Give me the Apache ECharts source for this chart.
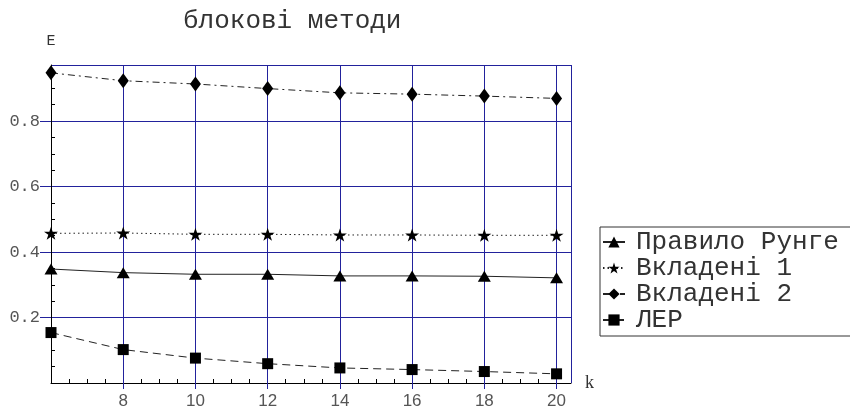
<!DOCTYPE html>
<html>
<head>
<meta charset="utf-8">
<script src="https://cdn.jsdelivr.net/npm/echarts@6/dist/echarts.min.js"></script>
<style>
  html, body { margin: 0; padding: 0; background: #fff; }
  #chart { width: 850px; height: 410px; }
</style>
</head>
<body>
<div id="chart"></div>
<script>
// Error estimate E versus number of steps k for the block methods
const kValues = [6, 8, 10, 12, 14, 16, 18, 20];
const runge   = [0.348, 0.337, 0.332, 0.332, 0.327, 0.327, 0.326, 0.321];
const nested1 = [0.457, 0.458, 0.454, 0.454, 0.452, 0.452, 0.451, 0.451];
const nested2 = [0.947, 0.923, 0.913, 0.899, 0.886, 0.882, 0.876, 0.869];
const ler     = [0.154, 0.102, 0.076, 0.059, 0.046, 0.041, 0.035, 0.028];

const seriesNames = ['Правило Рунге', 'Вкладені 1', 'Вкладені 2', 'ЛЕР'];
const titleText = 'блокові методи';
const xName = 'k';
const yName = 'E';

const NAVY = '#22229c';
const MONO = 'Liberation Mono, Cousine, Courier New, Courier, monospace';
const STAR = 'path://M0,-100 L22.45,-30.9 L95.1,-30.9 L36.3,11.8 L58.8,80.9 L0,38.2 L-58.8,80.9 L-36.3,11.8 L-95.1,-30.9 L-22.45,-30.9 Z';

function pairs(vals) {
  return kValues.map((k, i) => [k, vals[i]]);
}

const X_MIN = 6, X_MAX = 20.4, Y_MIN = 0, Y_MAX = 0.971;

function makeSeries(name, vals, symbol, size, dash) {
  return {
    name: name,
    type: 'line',
    xAxisIndex: 0,
    yAxisIndex: 0,
    data: pairs(vals),
    symbol: symbol,
    symbolSize: size,
    showAllSymbol: true,
    itemStyle: { color: '#000' },
    lineStyle: { color: '#222', width: 1, type: dash },
    z: 5
  };
}

const chart = echarts.init(document.getElementById('chart'), null, { renderer: 'canvas' });
chart.setOption({
  animation: false,
  backgroundColor: '#fff',
  title: {
    text: titleText,
    left: 178,
    top: 3,
    textStyle: { fontFamily: MONO, fontSize: 26, fontWeight: 'normal', color: '#333' }
  },
  legend: {
    orient: 'vertical',
    left: 600,
    top: 227,
    padding: [2, 30, 3, 2],
    itemGap: 0,
    itemWidth: 22,
    itemHeight: 14,
    borderColor: '#333',
    borderWidth: 1,
    textStyle: { fontFamily: MONO, fontSize: 26, color: '#333', padding: [0, 0, 0, 6] },
    data: seriesNames
  },
  grid: { left: 51, right: 279, top: 65, bottom: 27, containLabel: false },
  xAxis: [
    {
      type: 'value', min: X_MIN, max: X_MAX, interval: 2, position: 'bottom',
      name: xName, nameLocation: 'end', nameGap: 14,
      nameTextStyle: { fontFamily: 'Liberation Serif, serif', fontSize: 18, color: '#333', verticalAlign: 'middle' },
      axisLine: { show: true, onZero: false, lineStyle: { color: '#000', width: 1 } },
      axisTick: { show: true, inside: false, length: 6, lineStyle: { color: NAVY } },
      minorTick: { show: false },
      splitLine: { show: true, showMinLine: false, lineStyle: { color: NAVY, width: 1 } },
      axisLabel: {
        showMinLabel: false, showMaxLabel: false, margin: 10,
        fontFamily: 'Liberation Sans, Arial, sans-serif', fontSize: 17, color: '#555',
        formatter: v => (v === 6 ? '' : String(v))
      }
    },
    {
      type: 'value', min: X_MIN, max: X_MAX, interval: 2, position: 'bottom',
      axisLine: { show: false, onZero: false },
      axisTick: { show: false, inside: true },
      minorTick: { show: true, splitNumber: 4, length: 4, lineStyle: { color: '#000', width: 1 } },
      splitLine: { show: false },
      axisLabel: { show: false }
    }
  ],
  yAxis: [
    {
      type: 'value', min: Y_MIN, max: Y_MAX, interval: 0.2, position: 'left', z: 3,
      name: yName, nameLocation: 'end', nameGap: 16,
      nameTextStyle: { fontFamily: MONO, fontSize: 15, color: '#333', align: 'center' },
      axisLine: { show: true, onZero: false, lineStyle: { color: '#000', width: 1 } },
      axisTick: { show: true, inside: false, length: 11, lineStyle: { color: NAVY } },
      minorTick: { show: false },
      splitLine: { show: true, showMinLine: false, lineStyle: { color: NAVY, width: 1 } },
      axisLabel: {
        showMinLabel: false, showMaxLabel: false, margin: 11,
        fontFamily: MONO, fontSize: 17, color: '#555',
        formatter: v => v.toFixed(1)
      }
    },
    {
      type: 'value', min: Y_MIN, max: Y_MAX, interval: 0.2, position: 'left',
      axisLine: { show: false, onZero: false },
      axisTick: { show: false, inside: true },
      minorTick: { show: true, splitNumber: 4, length: 4, lineStyle: { color: '#000', width: 1 } },
      splitLine: { show: false },
      axisLabel: { show: false }
    }
  ],
  series: [
    makeSeries(seriesNames[0], runge, 'triangle', [13, 11], 'solid'),
    makeSeries(seriesNames[1], nested1, STAR, [14, 13], [1.5, 3]),
    makeSeries(seriesNames[2], nested2, 'diamond', [11, 15], [7, 4, 2, 4]),
    makeSeries(seriesNames[3], ler, 'rect', [11, 11], [8, 5])
  ]
});
</script>
</body>
</html>
